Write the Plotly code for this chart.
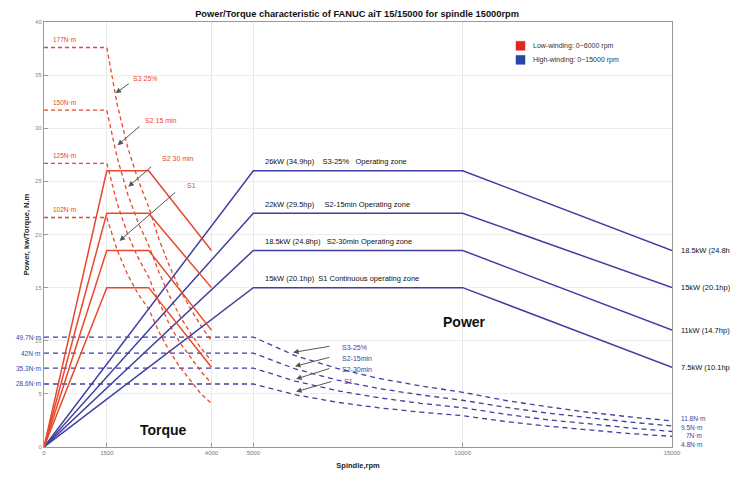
import plotly.graph_objects as go

# ---------------- data ----------------
title_text = "Power/Torque characteristic of FANUC aiT 15/15000 for spindle 15000rpm"

x_tick_vals = [0, 1500, 4000, 5000, 10000, 15000]
x_tick_text = ["0", "1500", "4000", "5000", "10000", "15000"]
y_tick_vals = [0, 5, 10, 15, 20, 25, 30, 35, 40]

# Low winding (red) power, kW
low_rpm = [0, 1500, 2500, 4000]
low_power_s3_25 = [0, 26, 26, 18.5]
low_power_s2_15 = [0, 22, 22, 15]
low_power_s2_30 = [0, 18.5, 18.5, 11]
low_power_s1 = [0, 15, 15, 7.5]

# Low winding (red) torque curves (plotted on the kW scale)
low_torque_rpm = [0, 1500, 1750, 2000, 2250, 2500, 2750, 3000, 3250, 3500, 3750, 4000]
low_torque_s3_25 = [37.6, 37.6, 32.2, 28.2, 25.1, 22.6, 19.5, 17.0, 14.8, 13.0, 11.4, 10.0]
low_torque_s2_15 = [31.7, 31.7, 27.2, 23.8, 21.1, 19.0, 16.4, 14.2, 12.3, 10.7, 9.3, 8.1]
low_torque_s2_30 = [26.7, 26.7, 22.9, 20.0, 17.8, 16.0, 13.6, 11.5, 9.8, 8.4, 7.1, 6.0]
low_torque_s1 = [21.6, 21.6, 18.5, 16.2, 14.4, 13.0, 10.8, 9.0, 7.5, 6.2, 5.0, 4.1]
low_torque_labels = ["177N·m", "150N·m", "125N·m", "102N·m"]

# High winding (blue) power, kW
high_rpm = [0, 5000, 10000, 15000]
high_power_s3_25 = [0, 26, 26, 18.5]
high_power_s2_15 = [0, 22, 22, 15]
high_power_s2_30 = [0, 18.5, 18.5, 11]
high_power_s1 = [0, 15, 15, 7.5]

# High winding (blue) torque curves (plotted on the kW scale)
high_torque_rpm = [0, 5000, 6000, 7000, 8000, 9000, 10000, 11000, 12000, 13000, 14000, 15000]
high_torque_s3_25 = [10.35, 10.35, 8.6, 7.4, 6.45, 5.75, 5.15, 4.4, 3.8, 3.27, 2.83, 2.46]
high_torque_s2_15 = [8.84, 8.84, 7.35, 6.3, 5.5, 4.9, 4.4, 3.75, 3.2, 2.74, 2.34, 1.98]
high_torque_s2_30 = [7.43, 7.43, 6.2, 5.3, 4.63, 4.11, 3.7, 3.09, 2.58, 2.15, 1.79, 1.46]
high_torque_s1 = [5.93, 5.93, 4.92, 4.21, 3.69, 3.28, 2.95, 2.41, 1.97, 1.59, 1.26, 1.0]
high_torque_left_labels = ["49.7N·m", "42N·m", "35.3N·m", "28.6N·m"]
high_torque_right_labels = ["11.8N·m", "9.5N·m", "7N·m", "4.8N·m"]

zone_labels = [
    "26kW (34.9hp)&nbsp;&nbsp;&nbsp;&nbsp;S3-25%&nbsp;&nbsp;&nbsp;Operating zone",
    "22kW (29.5hp)&nbsp;&nbsp;&nbsp;&nbsp;&nbsp;S2-15min Operating zone",
    "18.5kW (24.8hp)&nbsp;&nbsp;&nbsp;S2-30min Operating zone",
    "15kW (20.1hp)&nbsp;&nbsp;S1 Continuous operating zone",
]
end_power_labels = ["18.5kW (24.8hp)", "15kW (20.1hp)", "11kW (14.7hp)", "7.5kW (10.1hp)"]
duty_labels_red = ["S3 25%", "S2 15 min", "S2 30 min", "S1"]
duty_labels_blue = ["S3-25%", "S2-15min", "S2-30min", "S1"]
legend_labels = ["Low-winding: 0~6000 rpm", "High-winding: 0~15000 rpm"]

# ---------------- styling ----------------
RED = "#e8482c"
BLUE = "#3f3fa2"
FONT = "Liberation Sans, Arial, sans-serif"

fig = go.Figure()

# torque dashed curves
for ys in [high_torque_s3_25, high_torque_s2_15, high_torque_s2_30, high_torque_s1]:
    fig.add_trace(go.Scatter(x=high_torque_rpm, y=ys, mode="lines",
                             line=dict(color=BLUE, width=1.3, dash="5px,4px"),
                             showlegend=False, hoverinfo="skip"))
for ys in [low_torque_s3_25, low_torque_s2_15, low_torque_s2_30, low_torque_s1]:
    fig.add_trace(go.Scatter(x=low_torque_rpm, y=ys, mode="lines",
                             line=dict(color=RED, width=1.3, dash="4px,3px"),
                             showlegend=False, hoverinfo="skip"))
# power solid curves
for ys in [high_power_s3_25, high_power_s2_15, high_power_s2_30, high_power_s1]:
    fig.add_trace(go.Scatter(x=high_rpm, y=ys, mode="lines",
                             line=dict(color=BLUE, width=1.5),
                             showlegend=False, hoverinfo="skip"))
for ys in [low_power_s3_25, low_power_s2_15, low_power_s2_30, low_power_s1]:
    fig.add_trace(go.Scatter(x=low_rpm, y=ys, mode="lines",
                             line=dict(color=RED, width=1.5),
                             showlegend=False, hoverinfo="skip"))

ann = []
low_levels = [low_torque_s3_25[0], low_torque_s2_15[0], low_torque_s2_30[0], low_torque_s1[0]]
for lab, lv in zip(low_torque_labels, low_levels):
    ann.append(dict(x=170, y=lv + 0.25, xref="x", yref="y", text=lab, showarrow=False,
                    xanchor="left", yanchor="bottom", font=dict(size=6.5, color=RED)))

high_levels = [high_torque_s3_25[0], high_torque_s2_15[0], high_torque_s2_30[0], high_torque_s1[0]]
for lab, lv in zip(high_torque_left_labels, high_levels):
    ann.append(dict(x=-0.002, y=lv, xref="paper", yref="y", text=lab, showarrow=False,
                    xanchor="right", yanchor="middle", font=dict(size=6.5, color=BLUE)))

right_y = [0.066, 0.047, 0.028, 0.007]
right_x = [1.011, 1.011, 1.019, 1.011]
for lab, yy, xx in zip(high_torque_right_labels, right_y, right_x):
    ann.append(dict(x=xx, y=yy, xref="paper", yref="paper", text=lab, showarrow=False,
                    xanchor="left", yanchor="middle", font=dict(size=6.5, color=BLUE)))

plateaus = [high_power_s3_25[1], high_power_s2_15[1], high_power_s2_30[1], high_power_s1[1]]
for lab, lv in zip(zone_labels, plateaus):
    ann.append(dict(x=5230, y=lv + 0.25, xref="x", yref="y", text=lab, showarrow=False,
                    xanchor="left", yanchor="bottom", font=dict(size=7.5, color="#111")))

ends = [high_power_s3_25[-1], high_power_s2_15[-1], high_power_s2_30[-1], high_power_s1[-1]]
for lab, lv in zip(end_power_labels, ends):
    ann.append(dict(x=1.011, y=lv, xref="paper", yref="y", text=lab, showarrow=False,
                    xanchor="left", yanchor="middle", font=dict(size=7.5, color="#111")))

# red duty arrows: (tip_x, tip_y, tail_x, tail_y, text_x, text_y)
red_arrows = [(1710, 33.3, 2061, 34.3, 2084, 34.7),
              (1757, 28.4, 2318, 30.3, 2364, 30.7),
              (2014, 24.5, 2598, 26.5, 2762, 27.2),
              (1804, 19.4, 3173, 24.1, 3370, 24.6)]
for lab, (tx, ty, ax, ay, lx, ly) in zip(duty_labels_red, red_arrows):
    ann.append(dict(x=tx, y=ty, ax=ax, ay=ay, xref="x", yref="y", axref="x", ayref="y",
                    text="", showarrow=True, arrowhead=2, arrowsize=1.1, arrowwidth=1,
                    arrowcolor="#555"))
    ann.append(dict(x=lx, y=ly, xref="x", yref="y", text=lab, showarrow=False,
                    xanchor="left", yanchor="middle", font=dict(size=7, color=RED)))

blue_arrows = [(5950, 8.9, 6850, 9.5, 7070, 9.4),
               (5995, 7.6, 6850, 8.47, 7070, 8.37),
               (6020, 6.4, 6850, 7.43, 7070, 7.34),
               (6020, 5.2, 6900, 6.2, 7110, 6.2)]
for lab, (tx, ty, ax, ay, lx, ly) in zip(duty_labels_blue, blue_arrows):
    ann.append(dict(x=tx, y=ty, ax=ax, ay=ay, xref="x", yref="y", axref="x", ayref="y",
                    text="", showarrow=True, arrowhead=2, arrowsize=1.1, arrowwidth=1,
                    arrowcolor="#555"))
    ann.append(dict(x=lx, y=ly, xref="x", yref="y", text=lab, showarrow=False,
                    xanchor="left", yanchor="middle", font=dict(size=7, color=BLUE)))

# big labels
ann.append(dict(x=2850, y=1.6, xref="x", yref="y", text="<b>Torque</b>", showarrow=False,
                font=dict(size=14, color="#111")))
ann.append(dict(x=10050, y=11.8, xref="x", yref="y", text="<b>Power</b>", showarrow=False,
                font=dict(size=14, color="#111")))

# legend (manual)
shapes = []
leg_y = [0.944, 0.911]
for lab, col, yy in zip(legend_labels, ["#e02424", "#2845a8"], leg_y):
    shapes.append(dict(type="rect", xref="paper", yref="paper",
                       x0=0.7516, x1=0.7659, y0=yy - 0.0105, y1=yy + 0.0105,
                       fillcolor=col, line=dict(color=col, width=0.5)))
    ann.append(dict(x=0.7755, y=yy, xref="paper", yref="paper", text=lab, showarrow=False,
                    xanchor="left", yanchor="middle", font=dict(size=7, color="#333")))

fig.update_layout(
    width=738, height=477,
    margin=dict(l=36, r=74, t=14, b=38, autoexpand=False),
    plot_bgcolor="white", paper_bgcolor="white",
    font=dict(family=FONT, color="#333"),
    title=dict(text="<b>" + title_text + "</b>", x=0.473, xanchor="center",
               y=0.987, yanchor="middle", font=dict(size=9.3, color="#111")),
    annotations=ann, shapes=shapes, showlegend=False,
)
fig.update_xaxes(range=[0, 15000], tickvals=x_tick_vals, ticktext=x_tick_text,
                 automargin=False,
                 showgrid=True, gridcolor="#e8e8e8", gridwidth=1, zeroline=False,
                 showline=True, linecolor="#999", linewidth=1, mirror=True,
                 ticks="inside", ticklen=4, tickcolor="#999",
                 tickfont=dict(size=6, color="#777"),
                 title=dict(text="<b>Spindle,rpm</b>", font=dict(size=7.5, color="#222"), standoff=7))
fig.update_yaxes(range=[0, 40], tickvals=y_tick_vals,
                 automargin=False,
                 showgrid=True, gridcolor="#ededed", gridwidth=1, zeroline=False,
                 showline=True, linecolor="#999", linewidth=1, mirror=True,
                 ticks="inside", ticklen=4, tickcolor="#999",
                 tickfont=dict(size=6, color="#888"),
                 title=dict(text="<b>Power, kw/Torque, N.m</b>", font=dict(size=7.5, color="#222"), standoff=4))

fig.write_html("out.html")
